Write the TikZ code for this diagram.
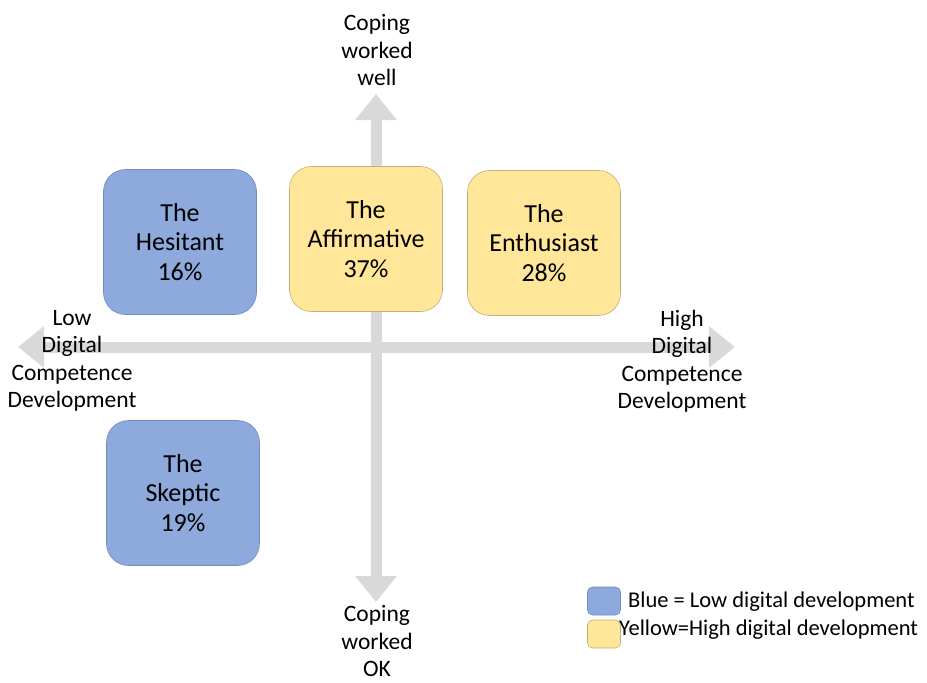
\documentclass[tikz,border=0pt]{standalone}
\usepackage{fontspec}
\setmainfont{Carlito}
\usetikzlibrary{arrows.meta}
\definecolor{axisgray}{HTML}{D9D9D9}
\definecolor{lowblue}{HTML}{8EA9DB}
\definecolor{lowblueedge}{HTML}{6F8CC2}
\definecolor{highyellow}{HTML}{FFE699}
\definecolor{highyellowedge}{HTML}{C2AE78}
\tikzset{
  axisline/.style={line width=11pt, draw=axisgray, fill=axisgray,
    {Triangle[width=40pt,length=26pt]}-{Triangle[width=40pt,length=26pt]}},
  typebox/.style={rounded corners=22pt, minimum width=153pt, minimum height=145pt,
    align=center, line width=0.6pt, font=\fontsize{26}{29.5}\selectfont},
  lowbox/.style={typebox, fill=lowblue, draw=lowblueedge},
  highbox/.style={typebox, fill=highyellow, draw=highyellowedge},
  axislabel/.style={align=center, inner sep=1pt, font=\fontsize{23.5}{27.5}\selectfont},
  legendkey/.style={rounded corners=5pt, minimum width=33pt, minimum height=28pt, line width=0.6pt},
  legendtext/.style={anchor=west, inner sep=0pt, font=\fontsize{22.5}{28}\selectfont}
}
\begin{document}
\begin{tikzpicture}[x=1pt,y=-1pt]
\useasboundingbox (0,0) rectangle (927,683);

% axis end points
\coordinate (west) at (18,347);
\coordinate (east) at (735,347);
\coordinate (north) at (376,94);
\coordinate (south) at (376,602);

% the two axes
\draw[axisline] (west) -- (east);
\draw[axisline] (south) -- (north);

% axis labels
\node[axislabel] (wellL) at (377,50) {Coping\\worked\\well};
\node[axislabel] (okL) at (377,641) {Coping\\worked\\OK};
\node[axislabel] (lowL) at (72,361) {Low\\Digital\\Competence\\Development};
\node[axislabel] (highL) at (682,361) {High\\Digital\\Competence\\Development};

% the four types
\node[lowbox] (hesitant) at (180,242) {The\\Hesitant\\16\%};
\node[highbox] (affirmative) at (366,239) {The\\Affirmative\\37\%};
\node[highbox] (enthusiast) at (544,243) {The\\Enthusiast\\28\%};
\node[lowbox] (skeptic) at (183,493) {The\\Skeptic\\19\%};

% legend
\node[legendkey, fill=lowblue, draw=lowblueedge] (keyblue) at (604,601) {};
\node[legendkey, fill=highyellow, draw=highyellowedge] (keyyellow) at (604,634) {};
\node[legendtext] (txtblue) at (628,602) {Blue = Low digital development};
\node[legendtext] (txtyellow) at (619,630) {Yellow=High digital development};
\end{tikzpicture}
\end{document}
